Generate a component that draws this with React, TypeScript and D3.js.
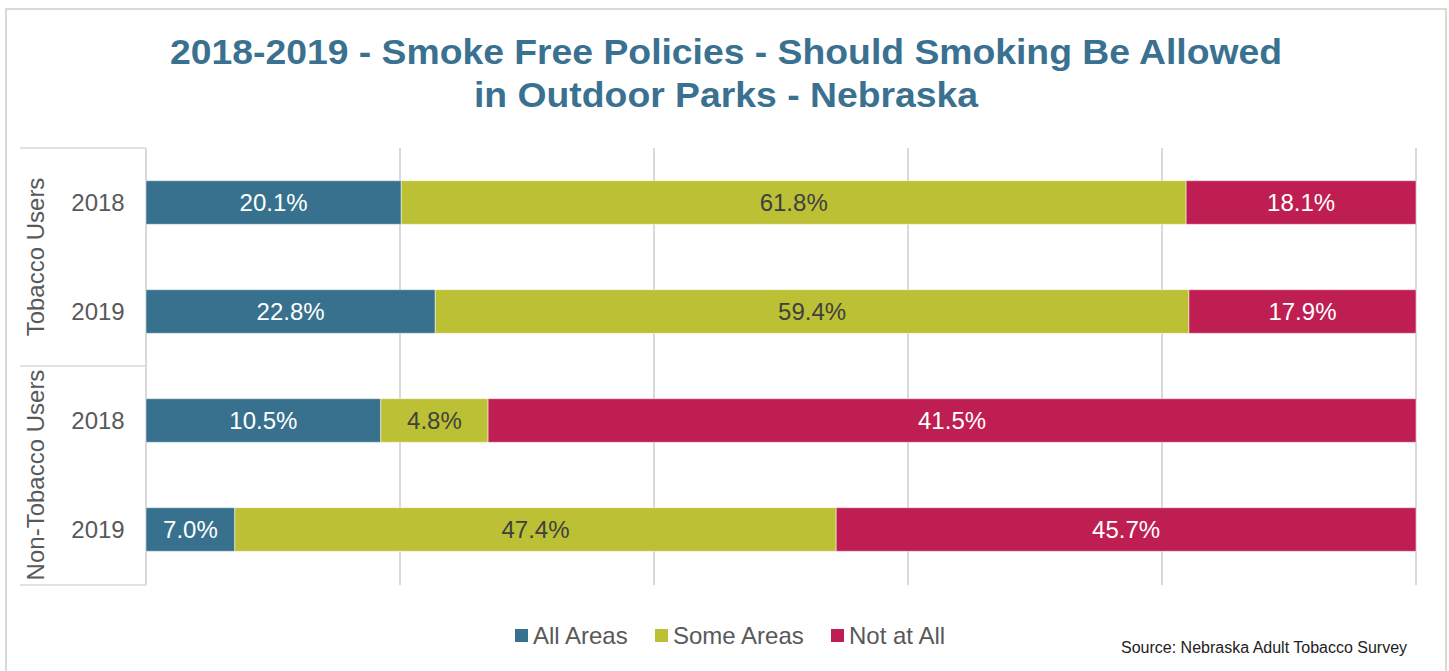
import React from 'react';
import * as d3 from 'd3';

// rows, top to bottom
const groups = ['Tobacco Users', 'Tobacco Users', 'Non-Tobacco Users', 'Non-Tobacco Users'];
const years = ['2018', '2019', '2018', '2019'];
const seriesNames = ['All Areas', 'Some Areas', 'Not at All'];
const allAreas = [20.1, 22.8, 10.5, 7.0];
const someAreas = [61.8, 59.4, 4.8, 47.4];
const notAtAll = [18.1, 17.9, 41.5, 45.7];
const xTicks = [0, 0.2, 0.4, 0.6, 0.8, 1];

const colors = ['#37718E', '#BCC034', '#BE1E51'];
const labelColors = ['#ffffff', '#404040', '#ffffff'];

const width = 1449;
const height = 671;
const margin = { top: 148, right: 33, bottom: 87, left: 146 };

export default function App() {
  const rows = years.map((y, i) => ({
    key: String(i),
    group: groups[i],
    year: y,
    'All Areas': allAreas[i],
    'Some Areas': someAreas[i],
    'Not at All': notAtAll[i],
  }));

  const stacked = d3
    .stack<any>()
    .keys(seriesNames)
    .offset(d3.stackOffsetExpand)(rows);

  const x = d3.scaleLinear().domain([0, 1]).range([margin.left, width - margin.right]);
  const y = d3
    .scaleBand()
    .domain(rows.map((r) => r.key))
    .range([margin.top, height - margin.bottom])
    .paddingInner(0.6)
    .paddingOuter(0.3);

  const plotTop = margin.top;
  const plotBottom = height - margin.bottom + 1;
  const groupNames = Array.from(new Set(groups));
  const step = y.step();
  const groupBounds = groupNames.map((g) => {
    const idx = rows.filter((r) => r.group === g).map((r) => y(r.key)!);
    const pad = (step - y.bandwidth()) / 2;
    return { name: g, y0: d3.min(idx)! - pad, y1: d3.max(idx)! + y.bandwidth() + pad };
  });

  const font = 'Arial, "Liberation Sans", sans-serif';

  return (
    <svg
      width={width}
      height={height}
      style={{ position: 'absolute', left: 0, top: 0, background: '#fff' }}
    >
      <rect x={6} y={9} width={1440} height={680} fill='#fff' stroke='#D9D9D9' strokeWidth={2} />

      <text
        x={726}
        y={64}
        textAnchor='middle'
        fontFamily={font}
        fontWeight='bold'
        fontSize={35}
        fill='#3A7190'
        textLength={1112}
        lengthAdjust='spacingAndGlyphs'
      >
        2018-2019 - Smoke Free Policies - Should Smoking Be Allowed
      </text>
      <text
        x={726}
        y={107}
        textAnchor='middle'
        fontFamily={font}
        fontWeight='bold'
        fontSize={35}
        fill='#3A7190'
        textLength={504}
        lengthAdjust='spacingAndGlyphs'
      >
        in Outdoor Parks - Nebraska
      </text>

      {/* gridlines */}
      {xTicks.map((t) => (
        <line
          key={t}
          x1={x(t)}
          x2={x(t)}
          y1={plotTop}
          y2={plotBottom}
          stroke='#D9D9D9'
          strokeWidth={2}
        />
      ))}

      {/* category axis frame */}
      {[plotTop, groupBounds[0].y1, plotBottom].map((yy, i) => (
        <line key={i} x1={20} x2={x(0)} y1={yy} y2={yy} stroke='#D9D9D9' strokeWidth={1.5} />
      ))}

      {/* bars */}
      {stacked.map((s, si) => (
        <g key={s.key}>
          {s.map((d, i) => {
            const x0 = x(d[0]);
            const x1 = x(d[1]);
            const by = y(rows[i].key)!;
            return (
              <g key={i}>
                <rect
                  x={x0}
                  y={by}
                  width={x1 - x0}
                  height={y.bandwidth()}
                  fill={colors[si]}
                  stroke='#ffffff'
                  strokeOpacity={0.5}
                  strokeWidth={1}
                />
                <text
                  x={(x0 + x1) / 2}
                  y={by + y.bandwidth() / 2}
                  dy='0.36em'
                  textAnchor='middle'
                  fontFamily={font}
                  fontSize={24}
                  fill={labelColors[si]}
                >
                  {(rows[i] as any)[s.key].toFixed(1)}%
                </text>
              </g>
            );
          })}
        </g>
      ))}

      {/* year labels */}
      {rows.map((r) => (
        <text
          key={r.key}
          x={98}
          y={y(r.key)! + y.bandwidth() / 2}
          dy='0.36em'
          textAnchor='middle'
          fontFamily={font}
          fontSize={24}
          fill='#595959'
        >
          {r.year}
        </text>
      ))}

      {/* group labels */}
      {groupBounds.map((g) => (
        <text
          key={g.name}
          transform={`translate(35,${(g.y0 + g.y1) / 2}) rotate(-90)`}
          dy='0.36em'
          textAnchor='middle'
          fontFamily={font}
          fontSize={24}
          fill='#595959'
        >
          {g.name}
        </text>
      ))}

      {/* legend */}
      {seriesNames.map((n, i) => {
        const lx = [515, 655, 831][i];
        return (
          <g key={n}>
            <rect x={lx} y={629} width={13} height={13} fill={colors[i]} />
            <text x={lx + 18} y={635} dy='0.36em' fontFamily={font} fontSize={24} fill='#595959'>
              {n}
            </text>
          </g>
        );
      })}

      <text x={1121} y={653} fontFamily={font} fontSize={16} fill='#222'>
        Source: Nebraska Adult Tobacco Survey
      </text>
    </svg>
  );
}
